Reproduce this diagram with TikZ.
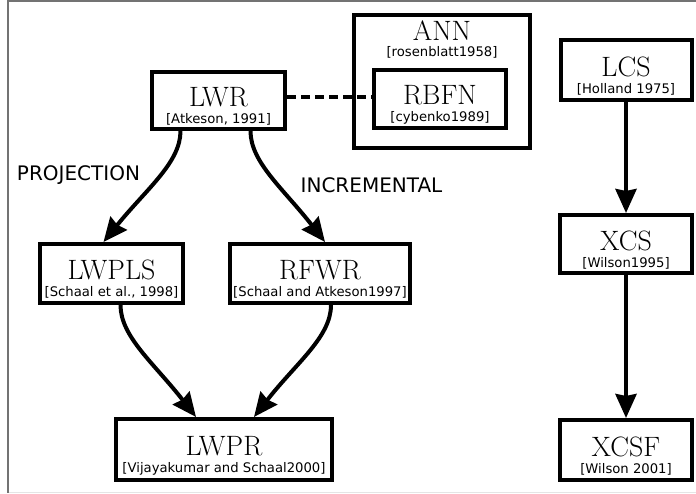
\documentclass[tikz,border=0pt]{standalone}
\usepackage{fontspec}
\newfontfamily\refsans{DejaVu Sans}
\usetikzlibrary{arrows.meta,shapes,calc,positioning}

% title on top, reference below
\newcommand{\algbox}[2]{\rule{0pt}{31pt}{\fontsize{28}{17}\selectfont\rmfamily #1}\\{\refsans\fontsize{13.2}{17}\selectfont #2}}

\begin{document}
\begin{tikzpicture}[x=1pt,y=1pt]
	\tikzstyle{every node}=[font=\refsans\fontsize{13.2}{17}\selectfont]
	\tikzstyle{algo}=[draw, line width=4pt, inner sep=0pt, align=center]
	\tikzstyle{flow}=[line width=4pt, -{Stealth[length=24pt,width=21pt,inset=2pt]}]
	\tikzstyle{curvy}=[out looseness=0.6, in looseness=1.3]
	\tikzstyle{branch}=[font=\refsans\fontsize{20}{20}\selectfont, inner sep=0pt]
	\useasboundingbox (0,0) rectangle (696,494);
	% frame
	\draw [gray!20, line width=1pt] (8,1) -- (696,1);
	\draw [black!55, line width=1.5pt] (696,493) -- (8,493) -- (8,1);
	% regression family
	\node [algo, minimum width=133pt, minimum height=57pt] (lwr) at (218.5,393.5) {\algbox{LWR}{[Atkeson, 1991]}};
	\node [algo, minimum width=143pt, minimum height=59pt] (lwpls) at (111.5,220.5) {\algbox{LWPLS}{[Schaal et al., 1998]}};
	\node [algo, minimum width=180pt, minimum height=59pt] (rfwr) at (320,220.5) {\algbox{RFWR}{[Schaal and Atkeson1997]}};
	\node [algo, minimum width=216pt, minimum height=61pt] (lwpr) at (224,44.5) {\algbox{LWPR}{[Vijayakumar and Schaal2000]}};
	\node [branch] (proj) at (78.5,319) {PROJECTION};
	\node [branch] (incr) at (371.5,309) {INCREMENTAL};
	% neural networks
	\node [algo, minimum width=176pt, minimum height=133pt] (ann) at (442,412.5) {};
	\node [anchor=north, inner sep=0pt, align=center] (anntext) at (442,473) {{\fontsize{28}{17}\selectfont\rmfamily ANN}\\[-1pt]{[rosenblatt1958]}};
	\node [algo, minimum width=132pt, minimum height=58pt] (rbfn) at (440,395) {\algbox{RBFN}{[cybenko1989]}};
	% classifier systems
	\node [algo, minimum width=131pt, minimum height=60pt] (lcs) at (626,424) {\algbox{LCS}{[Holland 1975]}};
	\node [algo, minimum width=132pt, minimum height=58pt] (xcs) at (626,250) {\algbox{XCS}{[Wilson1995]}};
	\node [algo, minimum width=132pt, minimum height=60pt] (xcsf) at (626,44) {\algbox{XCSF}{[Wilson 2001]}};
	% connectors
	\draw [line width=4pt, dash pattern=on 9pt off 5pt] ([yshift=3pt]lwr.east) -- ([yshift=3pt]lwr.east -| rbfn.west);
	\draw [flow] ([xshift=-38pt]lwr.south) to[out=-90,in=51,curvy] ([xshift=-8pt]lwpls.north);
	\draw [flow] ([xshift=32pt]lwr.south) to[out=-90,in=128,curvy] ([xshift=5pt]rfwr.north);
	\draw [flow] ([xshift=9pt]lwpls.south) to[out=-90,in=128,curvy] ([xshift=-28pt]lwpr.north);
	\draw [flow] ([xshift=11pt]rfwr.south) to[out=-90,in=52,curvy] ([xshift=30pt]lwpr.north);
	\draw [flow] (lcs) -- (xcs);
	\draw [flow] (xcs) -- (xcsf);
\end{tikzpicture}
\end{document}
